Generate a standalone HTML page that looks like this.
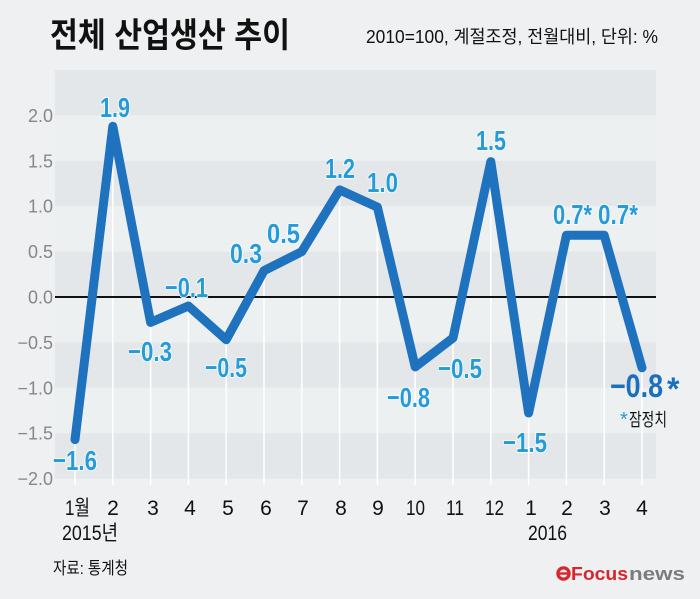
<!DOCTYPE html>
<html><head><meta charset="utf-8"><style>
html,body{margin:0;padding:0;background:#eef0f1;}
svg{display:block;}
text{font-family:"Liberation Sans","Noto Sans CJK KR",sans-serif;}
.yl{font-size:18px;fill:#85878a;text-anchor:end;}
.xl{font-size:21px;fill:#111;text-anchor:middle;}
.dl{font-size:28px;font-weight:700;fill:#259cd8;stroke:#fff;stroke-width:1.8px;paint-order:stroke;stroke-linejoin:round;}
</style></head><body>
<svg width="700" height="599" viewBox="0 0 700 599" xmlns="http://www.w3.org/2000/svg">
<rect x="0" y="0" width="700" height="599" fill="#eef0f1"/>
<!-- title -->
<text x="50" y="47" font-size="34" font-weight="700" fill="#111" textLength="240" lengthAdjust="spacingAndGlyphs">전체 산업생산 추이</text>
<text x="366" y="43" font-size="18" fill="#111" textLength="292" lengthAdjust="spacingAndGlyphs">2010=100, 계절조정, 전월대비, 단위: %</text>
<!-- bands -->
<rect x="55" y="70" width="601" height="45.4" fill="#e4e7e9"/>
<rect x="55" y="115.4" width="601" height="45.4" fill="#edf0f1"/>
<rect x="55" y="160.8" width="601" height="45.4" fill="#e4e7e9"/>
<rect x="55" y="206.2" width="601" height="45.4" fill="#edf0f1"/>
<rect x="55" y="251.6" width="601" height="45.4" fill="#e4e7e9"/>
<rect x="55" y="297" width="601" height="45.4" fill="#edf0f1"/>
<rect x="55" y="342.4" width="601" height="45.4" fill="#e4e7e9"/>
<rect x="55" y="387.8" width="601" height="45.4" fill="#edf0f1"/>
<rect x="55" y="433.2" width="601" height="45.4" fill="#e4e7e9"/>
<!-- y labels -->
<text class="yl" x="53" y="121.9">2.0</text>
<text class="yl" x="53" y="167.3">1.5</text>
<text class="yl" x="53" y="212.7">1.0</text>
<text class="yl" x="53" y="258.1">0.5</text>
<text class="yl" x="53" y="303.5">0.0</text>
<text class="yl" x="53" y="348.9">−0.5</text>
<text class="yl" x="53" y="394.3">−1.0</text>
<text class="yl" x="53" y="439.7">−1.5</text>
<text class="yl" x="53" y="485.1">−2.0</text>
<!-- vertical white lines -->
<g stroke="#ffffff" stroke-width="1.5">
<line x1="75" y1="439.6" x2="75" y2="485"/>
<line x1="112.8" y1="126.3" x2="112.8" y2="485"/>
<line x1="150.6" y1="322.4" x2="150.6" y2="485"/>
<line x1="188.4" y1="306" x2="188.4" y2="485"/>
<line x1="226.2" y1="339.7" x2="226.2" y2="485"/>
<line x1="264" y1="270.7" x2="264" y2="485"/>
<line x1="301.8" y1="251.6" x2="301.8" y2="485"/>
<line x1="339.6" y1="189.9" x2="339.6" y2="485"/>
<line x1="377.4" y1="207.1" x2="377.4" y2="485"/>
<line x1="415.2" y1="366.9" x2="415.2" y2="485"/>
<line x1="453" y1="337.9" x2="453" y2="485"/>
<line x1="490.8" y1="161.7" x2="490.8" y2="485"/>
<line x1="528.6" y1="413" x2="528.6" y2="485"/>
<line x1="566.4" y1="235.3" x2="566.4" y2="485"/>
<line x1="604.2" y1="235.3" x2="604.2" y2="485"/>
<line x1="642" y1="367.8" x2="642" y2="485"/>
</g>
<!-- zero line -->
<line x1="55" y1="297" x2="656" y2="297" stroke="#111" stroke-width="2"/>
<!-- data line -->
<polyline fill="none" stroke="#1f73be" stroke-width="9" stroke-linejoin="round" stroke-linecap="round"
 points="75,439.6 112.8,126.3 150.6,322.4 188.4,306 226.2,339.7 264,270.7 301.8,251.6 339.6,189.9 377.4,207.1 415.2,366.9 453,337.9 490.8,161.7 528.6,413 566.4,235.3 604.2,235.3 642,367.8"/>
<!-- data labels -->
<text class="dl" x="53" y="470" textLength="44" lengthAdjust="spacingAndGlyphs">−1.6</text>
<text class="dl" x="100" y="117" textLength="30" lengthAdjust="spacingAndGlyphs">1.9</text>
<text class="dl" x="128" y="361" textLength="44" lengthAdjust="spacingAndGlyphs">−0.3</text>
<text class="dl" x="165" y="297" textLength="43" lengthAdjust="spacingAndGlyphs">−0.1</text>
<text class="dl" x="205" y="377" textLength="42" lengthAdjust="spacingAndGlyphs">−0.5</text>
<text class="dl" x="230" y="263" textLength="32" lengthAdjust="spacingAndGlyphs">0.3</text>
<text class="dl" x="267" y="243" textLength="33" lengthAdjust="spacingAndGlyphs">0.5</text>
<text class="dl" x="325" y="178" textLength="30" lengthAdjust="spacingAndGlyphs">1.2</text>
<text class="dl" x="367" y="192" textLength="31" lengthAdjust="spacingAndGlyphs">1.0</text>
<text class="dl" x="387" y="407" textLength="43" lengthAdjust="spacingAndGlyphs">−0.8</text>
<text class="dl" x="438" y="378" textLength="44" lengthAdjust="spacingAndGlyphs">−0.5</text>
<text class="dl" x="476" y="150" textLength="30" lengthAdjust="spacingAndGlyphs">1.5</text>
<text class="dl" x="553" y="224" textLength="39" lengthAdjust="spacingAndGlyphs">0.7*</text>
<text class="dl" x="598" y="224" textLength="40" lengthAdjust="spacingAndGlyphs">0.7*</text>
<text class="dl" x="503" y="452" textLength="44" lengthAdjust="spacingAndGlyphs">−1.5</text>
<text x="610" y="397" font-size="32" font-weight="700" fill="#1c6fbd" textLength="53" lengthAdjust="spacingAndGlyphs">−0.8</text>
<text x="667" y="400" font-size="32" font-weight="700" fill="#1c6fbd">*</text>
<text x="620" y="426" font-size="20" fill="#259cd8">*</text>
<text x="629" y="426" font-size="18" fill="#111" textLength="38" lengthAdjust="spacingAndGlyphs">잠정치</text>
<!-- x labels -->
<text x="65" y="515" font-size="21" fill="#111" textLength="25" lengthAdjust="spacingAndGlyphs">1월</text>
<text class="xl" x="113" y="515">2</text>
<text class="xl" x="153" y="515">3</text>
<text class="xl" x="190" y="515">4</text>
<text class="xl" x="228" y="515">5</text>
<text class="xl" x="266" y="515">6</text>
<text class="xl" x="303" y="515">7</text>
<text class="xl" x="341" y="515">8</text>
<text class="xl" x="378" y="515">9</text>
<text x="406" y="515" font-size="21" fill="#111" textLength="19" lengthAdjust="spacingAndGlyphs">10</text>
<text x="446" y="515" font-size="21" fill="#111" textLength="18" lengthAdjust="spacingAndGlyphs">11</text>
<text x="485" y="515" font-size="21" fill="#111" textLength="19" lengthAdjust="spacingAndGlyphs">12</text>
<text class="xl" x="531" y="515">1</text>
<text class="xl" x="567" y="515">2</text>
<text class="xl" x="605" y="515">3</text>
<text class="xl" x="642" y="515">4</text>
<text x="62" y="540" font-size="21" fill="#111" textLength="56" lengthAdjust="spacingAndGlyphs">2015년</text>
<text x="528" y="540" font-size="21" fill="#111" textLength="39" lengthAdjust="spacingAndGlyphs">2016</text>
<!-- source -->
<text x="53" y="574" font-size="17" fill="#111" textLength="75" lengthAdjust="spacingAndGlyphs">자료: 통계청</text>
<!-- logo -->
<g>
<circle cx="563.5" cy="573.5" r="5.6" fill="none" stroke="#d7262e" stroke-width="3.2"/>
<line x1="558.5" y1="573.5" x2="568.5" y2="573.5" stroke="#d7262e" stroke-width="2.4"/>
<text x="571" y="580" font-size="18" font-weight="700" fill="#d7262e" textLength="57" lengthAdjust="spacingAndGlyphs">Focus</text>
<text x="629" y="580" font-size="18" font-weight="700" fill="#7b7c7e" textLength="56" lengthAdjust="spacingAndGlyphs">news</text>
</g>
</svg>
</body></html>
